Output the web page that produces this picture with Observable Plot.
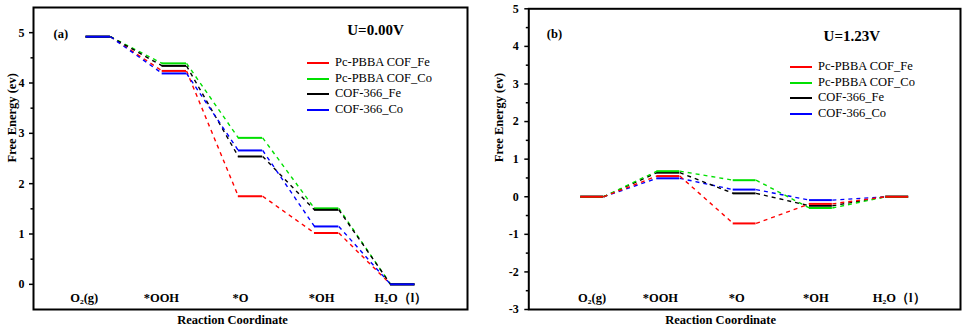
<!DOCTYPE html>
<html><head><meta charset="utf-8">
<script src="https://cdn.jsdelivr.net/npm/d3@7"></script>
<script src="https://cdn.jsdelivr.net/npm/@observablehq/plot@0.6"></script>
<style>
body{margin:0;background:#fff;}
#wrap{position:relative;width:965px;height:334px;display:flex;}
.panel{position:relative;}
.legend{position:absolute;font-family:"Liberation Serif",serif;font-size:12.5px;color:#000;}
.legend .row{position:absolute;left:0;white-space:nowrap;height:16px;line-height:16px;}
.legend .sw{display:inline-block;width:22px;height:2px;vertical-align:middle;margin-right:6px;}
</style></head><body><div id="wrap"></div>
<script>
// categories
const steps = ["O\u2082(g)", "*OOH", "*O", "*OH", "H\u2082O\uff08l\uff09"];
const seriesNames = ["Pc-PBBA COF_Fe", "Pc-PBBA COF_Co", "COF-366_Fe", "COF-366_Co"];
const seriesColors = ["#ff0000", "#00e000", "#000000", "#0000ff"];
// U = 0.00 V
const pcFe_U0 = [4.92, 4.24, 1.75, 1.02, 0];
const pcCo_U0 = [4.92, 4.39, 2.91, 1.51, 0];
const c366Fe_U0 = [4.92, 4.34, 2.54, 1.48, 0];
const c366Co_U0 = [4.92, 4.19, 2.66, 1.15, 0];
// U = 1.23 V
const pcFe_U123 = [0, 0.55, -0.71, -0.19, 0];
const pcCo_U123 = [0, 0.68, 0.44, -0.30, 0];
const c366Fe_U123 = [0, 0.64, 0.09, -0.24, 0];
const c366Co_U123 = [0, 0.49, 0.19, -0.09, 0];
// y ticks
const yTicksA = [0, 1, 2, 3, 4, 5];
const yMinorA = [0.5, 1.5, 2.5, 3.5, 4.5];
const yTicksB = [-3, -2, -1, 0, 1, 2, 3, 4, 5];
const yMinorB = [-2.5, -1.5, -0.5, 0.5, 1.5, 2.5, 3.5, 4.5];

const B = {fontFamily: "Liberation Serif", fontWeight: "bold", fill: "#000"};

function panel(cfg) {
  const hw = cfg.hw;
  const marks = [];
  const order = cfg.reverse ? [3, 2, 1, 0] : [0, 1, 2, 3];
  for (const s of order) {
    const vals = cfg.series[s];
    const lv = vals.map((v, i) => ({x1: i + 1 - hw, x2: i + 1 + hw, y: v}));
    const cn = vals.slice(0, -1).map((v, i) => ({x1: i + 1 + hw, y1: v, x2: i + 2 - hw, y2: vals[i + 1]}));
    marks.push(Plot.link(cn, {x1: "x1", y1: "y1", x2: "x2", y2: "y2", stroke: seriesColors[s], strokeWidth: 1.4, strokeDasharray: "4,4"}));
    marks.push(Plot.ruleY(lv, {y: "y", x1: "x1", x2: "x2", stroke: seriesColors[s], strokeWidth: 2}));
  }
  marks.push(Plot.axisY(cfg.ticks, {tickSize: 4, strokeWidth: 1.5, tickPadding: cfg.tickPad, fontSize: 12, ...B, tickFormat: d => String(d)}));
  marks.push(Plot.axisY(cfg.minor, {tickSize: 2.5, strokeWidth: 1.5, tickFormat: () => ""}));
  marks.push(Plot.frame({stroke: "#000", strokeWidth: 2}));
  steps.forEach((lab, i) => {
    marks.push(Plot.text([lab], {x: () => i + 1, frameAnchor: "bottom", dy: -8, dx: cfg.labelDx[i], fontSize: 12.5, ...B}));
  });
  marks.push(Plot.text(["Reaction Coordinate"], {frameAnchor: "bottom", dy: 14, dx: cfg.xlabDx, fontSize: 12.5, ...B}));
  marks.push(Plot.text(["Free Energy (ev)"], {frameAnchor: "left", rotate: -90, dx: cfg.ylabDx, dy: cfg.ylabDy, fontSize: 12.5, ...B}));
  marks.push(Plot.text([cfg.tag], {frameAnchor: "top-left", dx: cfg.tagDx, dy: cfg.tagDy, textAnchor: "start", fontSize: 12.5, ...B}));
  marks.push(Plot.text([cfg.title], {frameAnchor: "top-left", dx: cfg.titleDx, dy: cfg.titleDy, textAnchor: "middle", fontSize: 15, ...B}));
  const svg = Plot.plot({
    width: cfg.width, height: 334,
    marginLeft: cfg.ml, marginRight: cfg.mr, marginTop: cfg.mt, marginBottom: cfg.mb,
    x: {type: "linear", domain: cfg.xdomain, axis: null},
    y: {domain: cfg.ydomain, axis: null},
    style: "font-family: 'Liberation Serif', serif; color: #000; background: #fff; overflow: visible;",
    marks
  });
  const div = document.createElement("div");
  div.className = "panel";
  div.style.width = cfg.width + "px";
  div.appendChild(svg);
  const lg = document.createElement("div");
  lg.className = "legend";
  lg.style.left = cfg.legLeft + "px";
  lg.style.top = cfg.legTop + "px";
  seriesNames.forEach((n, i) => {
    const r = document.createElement("div");
    r.className = "row";
    r.style.top = (i * 15.6) + "px";
    const sw = document.createElement("span");
    sw.className = "sw";
    sw.style.background = seriesColors[i];
    r.appendChild(sw);
    r.appendChild(document.createTextNode(n));
    lg.appendChild(r);
  });
  div.appendChild(lg);
  return div;
}

const wrap = document.getElementById("wrap");
wrap.appendChild(panel({
  width: 480, ml: 33, mr: 13, mt: 7, mb: 25,
  xdomain: [0.15, 5.85], ydomain: [-0.5, 5.5], hw: 0.16,
  series: [pcFe_U0, pcCo_U0, c366Fe_U0, c366Co_U0],
  ticks: yTicksA, minor: yMinorA, reverse: false, tickPad: 5,
  labelDx: [-14, -13, -10, -5, -2],
  xlabDx: -18, ylabDx: -22, ylabDy: 4,
  tag: "(a)", tagDx: 20, tagDy: 22,
  title: "U=0.00V", titleDx: 342, titleDy: 17,
  legLeft: 307, legTop: 54
}));
wrap.appendChild(panel({
  width: 485, ml: 48.3, mr: 5, mt: 8.3, mb: 25,
  xdomain: [0.17, 5.83], ydomain: [-3, 5], hw: 0.15,
  series: [pcFe_U123, pcCo_U123, c366Fe_U123, c366Co_U123],
  ticks: yTicksB, minor: yMinorB, reverse: true, tickPad: 6,
  labelDx: [0, -8, -8, -5, 2],
  xlabDx: -24, ylabDx: -30, ylabDy: 3,
  tag: "(b)", tagDx: 18, tagDy: 20,
  title: "U=1.23V", titleDx: 323, titleDy: 22,
  legLeft: 310, legTop: 58
}));
</script></body></html>
